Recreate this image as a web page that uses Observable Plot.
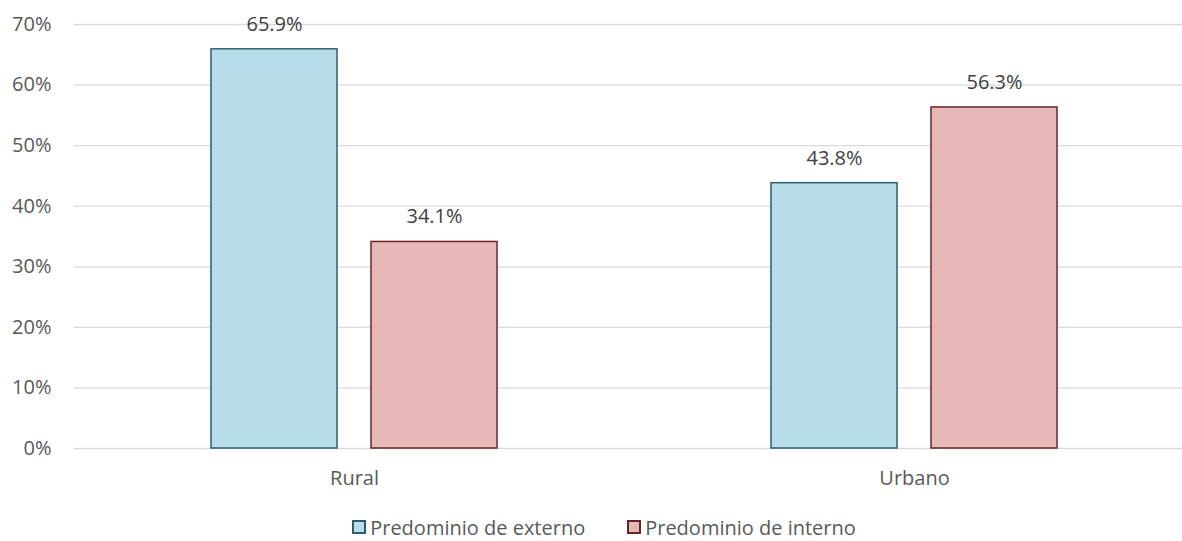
<!DOCTYPE html>
<html><head><meta charset="utf-8">
<script src="https://cdn.jsdelivr.net/npm/d3@7"></script>
<script src="https://cdn.jsdelivr.net/npm/@observablehq/plot@0.6"></script>
<style>
body{margin:0;background:#fff;font-family:"Open Sans",sans-serif;overflow:hidden;}
#legend{display:flex;justify-content:center;gap:42px;height:36px;align-items:center;font-size:20px;color:#595959;padding-left:26px;padding-top:4px;}
.item{display:flex;align-items:center;gap:4px;}
.sw{width:14px;height:14px;box-sizing:border-box;border:2px solid;}
</style></head>
<body>
<div id="chart"></div>
<div id="legend"></div>
<script>
const categories = ["Rural", "Urbano"];
const series = ["Predominio de externo", "Predominio de interno"];
const externo = [65.9, 43.8];
const interno = [34.1, 56.3];
const yTicks = [0, 10, 20, 30, 40, 50, 60, 70];
const fills = ["#b7dde8", "#e6b9b8"];
const strokes = ["#2b5f6e", "#6b2426"];

const rows = [];
categories.forEach((c, i) => {
  rows.push({cat: c, serie: series[0], value: externo[i]});
  rows.push({cat: c, serie: series[1], value: interno[i]});
});

const chart = Plot.plot({
  width: 1182, height: 505,
  marginLeft: 74, marginRight: 0, marginTop: 24, marginBottom: 57,
  style: {fontFamily: "'Open Sans', sans-serif", background: "#fff"},
  fx: {domain: categories, range: [74, 1194], paddingInner: 0, paddingOuter: 0, label: null, axis: null},
  x: {domain: series, paddingInner: 0.2125, paddingOuter: 0.856, axis: null},
  y: {domain: [0, 70], axis: null},
  marks: [
    Plot.ruleY(yTicks, {stroke: "#d9d9d9", strokeWidth: 1.3}),
    ...series.map((s, k) => Plot.barY(rows.filter(r => r.serie === s), {
      fx: "cat", x: "serie", y: "value", fill: fills[k], stroke: strokes[k], strokeWidth: 1.5
    })),
    Plot.text(rows, {fx: "cat", x: "serie", y: "value", text: d => d.value.toFixed(1) + "%",
      dy: -25, lineAnchor: "middle", fill: "#404040", fontSize: 20}),
    Plot.axisY(yTicks, {tickSize: 0, tickPadding: 23, tickFormat: d => d + "%", fontSize: 20, color: "#595959", label: null}),
    Plot.axisFx({anchor: "bottom", tickSize: 0, tickPadding: 22, fontSize: 20, color: "#595959", label: null})
  ]
});
document.getElementById("chart").append(chart);

const leg = d3.select("#legend");
series.forEach((s, k) => {
  const it = leg.append("div").attr("class", "item");
  it.append("div").attr("class", "sw").style("background", fills[k]).style("border-color", strokes[k]);
  it.append("span").text(s);
});
</script>
</body></html>
